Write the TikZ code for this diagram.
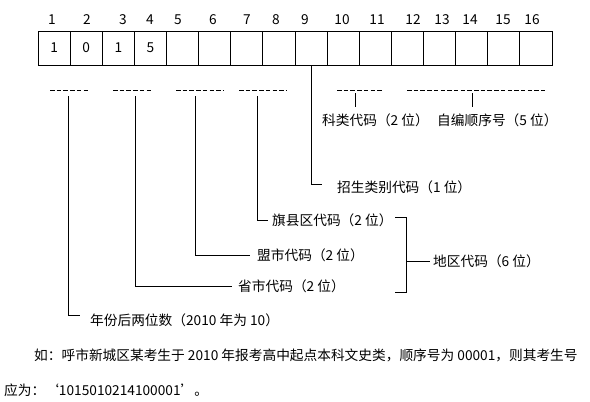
\documentclass[tikz,border=0pt]{standalone}
\usepackage{fontspec}
\setmainfont{Noto Sans CJK SC}
\usetikzlibrary{positioning, calc}

\begin{document}
\begin{tikzpicture}[
    x=1pt, y=-1pt,
    font=\fontsize{13.7}{15}\selectfont,
    cell/.style={draw, line width=0.9pt, outer sep=0pt, inner sep=0pt, minimum width=32.125pt, minimum height=34pt, anchor=west},
    num/.style={inner sep=0pt},
    code_txt/.style={anchor=west, inner sep=1pt},
    dash_line/.style={line width=1pt, dash pattern=on 4.5pt off 2.2pt},
    conn/.style={line width=0.9pt}
]
\useasboundingbox (0,0) rectangle (590,402);
\node[cell] (c1) at (38,48) {1};
\node[cell, right=0pt of c1] (c2) {0};
\node[cell, right=0pt of c2] (c3) {1};
\node[cell, right=0pt of c3] (c4) {5};
\foreach \i [evaluate=\i as \j using int(\i-1)] in {5,...,16}
    \node[cell, right=0pt of c\j] (c\i) {};
\foreach \x [count=\i] in {52,87,123,150,178,213,247,276,305,342,377,413,442,470,503,532}
    \node[num] (n\i) at (\x,20) {\i};
\foreach \a/\b in {50/90,113/153,176/223,239/286,337/383,407/545}
    \draw[dash_line] (\a,90) -- (\b,90);
\coordinate (yr) at (68,96);
\coordinate (sheng) at (135,96);
\coordinate (meng) at (195,96);
\coordinate (qx) at (257,96);
\coordinate (kl) at (355,93);
\coordinate (bh) at (472,93);
\coordinate (brk) at (406,261);
\node[code_txt] (kl_txt) at (321,120) {科类代码（2 位）};
\node[code_txt] (bh_txt) at (436,120) {自编顺序号（5 位）};
\node[code_txt] (lb_txt) at (336,187) {招生类别代码（1 位）};
\node[code_txt] (qx_txt) at (271,220) {旗县区代码（2 位）};
\node[code_txt] (meng_txt) at (256,255) {盟市代码（2 位）};
\node[code_txt] (dq_txt) at (432,261) {地区代码（6 位）};
\node[code_txt] (sheng_txt) at (237,286) {省市代码（2 位）};
\node[code_txt] (yr_txt) at (89,320) {年份后两位数（2010 年为 10）};
\node[code_txt] (eg1) at (33,355) {如：呼市新城区某考生于 2010 年报考高中起点本科文史类，顺序号为 00001，则其考生号};
\node[code_txt] (eg2) at (3,390) {应为：‘1015010214100001’。};
\draw[conn, shorten >=5pt] (kl) -- (kl |- kl_txt.north);
\draw[conn, shorten >=5pt] (bh) -- (bh |- bh_txt.north);
\draw[conn, shorten >=14pt] (c9.south) |- ([yshift=3pt]lb_txt.west);
\draw[conn, shorten >=3pt] (qx) |- (qx_txt.west);
\draw[conn, shorten >=6pt] (meng) |- (meng_txt.west);
\draw[conn, shorten >=5pt] (sheng) |- (sheng_txt.west);
\draw[conn, shorten >=9pt] (yr) |- ([yshift=5pt]yr_txt.west);
\draw[conn] (395,217) -| (406,292) -- (395,292);
\draw[conn, shorten >=2pt] (brk) -- (dq_txt.west);
\end{tikzpicture}
\end{document}
